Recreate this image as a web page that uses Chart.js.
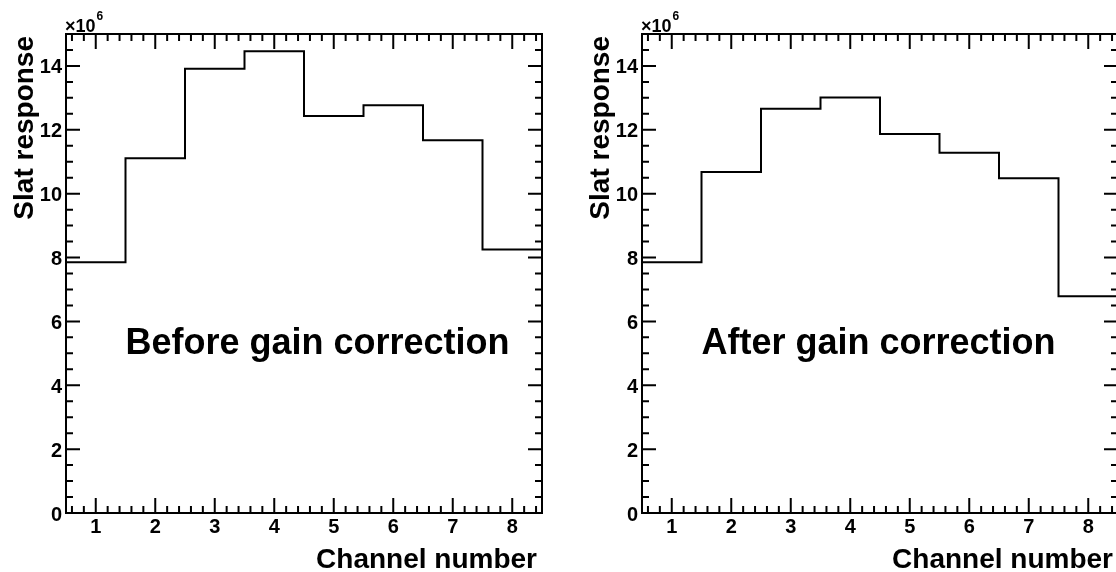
<!DOCTYPE html>
<html>
<head>
<meta charset="utf-8">
<script src="https://cdn.jsdelivr.net/npm/chart.js@4.4.0/dist/chart.umd.min.js"></script>
<style>
    html, body { margin: 0; padding: 0; background: #fff; width: 1116px; height: 572px; overflow: hidden; position: relative; }
    .panel { position: absolute; top: 0; width: 558px; height: 572px; }
    #panelBefore { left: 0; }
    #panelAfter { left: 576px; }
</style>
</head>
<body>
<div class="panel" id="panelBefore"><canvas id="graficoAntes" width="558" height="572"></canvas></div>
<div class="panel" id="panelAfter"><canvas id="graficoDespues" width="558" height="572"></canvas></div>
<script>
// Respuesta por canal, en unidades de 10^6
const channels = [1, 2, 3, 4, 5, 6, 7, 8];
const responseBefore = [7.85, 11.11, 13.91, 14.46, 12.43, 12.77, 11.67, 8.25];
const responseAfter = [7.85, 10.68, 12.66, 13.01, 11.87, 11.28, 10.48, 6.79];
const yTicks = [0, 2, 4, 6, 8, 10, 12, 14];
const yExponent = '6';

const FONT = '"Liberation Sans", Arial, Helvetica, sans-serif';

// Bordes de cada bin: el escalón empieza medio canal antes del centro
function histPoints(values) {
    const pts = values.map((v, i) => ({ x: channels[i] - 0.5, y: v }));
    pts.push({ x: channels[channels.length - 1] + 0.5, y: values[values.length - 1] });
    return pts;
}

// Marco estilo ROOT: caja, marcas mayores/menores en los 4 lados, títulos y texto
const rootFrame = {
    id: 'rootFrame',
    afterDraw(chart, args, opts) {
        const { ctx, chartArea: a, scales: { x, y } } = chart;
        ctx.save();
        ctx.strokeStyle = '#000';
        ctx.fillStyle = '#000';
        ctx.lineWidth = 2;
        ctx.strokeRect(a.left, a.top, a.right - a.left, a.bottom - a.top);

        ctx.beginPath();
        for (let k = 3; k <= 42; k++) {
            const px = x.getPixelForValue(k / 5);
            const len = k % 5 === 0 ? 15 : 7;
            ctx.moveTo(px, a.bottom); ctx.lineTo(px, a.bottom - len);
            ctx.moveTo(px, a.top); ctx.lineTo(px, a.top + len);
        }
        for (let k = 1; k <= 29; k++) {
            const py = y.getPixelForValue(k / 2);
            const len = k % 4 === 0 ? 14 : 7;
            ctx.moveTo(a.left, py); ctx.lineTo(a.left + len, py);
            ctx.moveTo(a.right, py); ctx.lineTo(a.right - len, py);
        }
        ctx.stroke();

        // Factor de escala del eje Y
        ctx.textBaseline = 'alphabetic';
        ctx.textAlign = 'left';
        ctx.font = 'bold 18px ' + FONT;
        ctx.fillText('\u00d710', a.left - 1, a.top - 2);
        const w = ctx.measureText('\u00d710').width;
        ctx.font = 'bold 12px ' + FONT;
        ctx.fillText(yExponent, a.left + w, a.top - 14);

        // Títulos de los ejes
        ctx.font = 'bold 28px ' + FONT;
        ctx.textAlign = 'right';
        ctx.fillText('Channel number', a.right - 5, a.bottom + 55);
        ctx.save();
        ctx.translate(a.left - 33, a.top + 2);
        ctx.rotate(-Math.PI / 2);
        ctx.fillText('Slat response', 0, 0);
        ctx.restore();

        // Etiqueta dentro del gráfico
        ctx.font = 'bold 36px ' + FONT;
        ctx.textAlign = 'left';
        ctx.fillText(opts.note, x.getPixelForValue(opts.noteX), y.getPixelForValue(opts.noteY) + 1);
        ctx.restore();
    }
};

function crearHistograma(canvasId, values, note) {
    const ctx = document.getElementById(canvasId).getContext('2d');
    return new Chart(ctx, {
        type: 'line',
        data: {
            datasets: [{
                data: histPoints(values),
                stepped: 'before',
                borderColor: '#000',
                borderWidth: 2,
                pointRadius: 0,
                fill: false
            }]
        },
        options: {
            responsive: false,
            devicePixelRatio: 1,
            animation: false,
            layout: { padding: { top: 34, right: 16, left: 0, bottom: 0 } },
            plugins: {
                legend: { display: false },
                tooltip: { enabled: false },
                rootFrame: { note: note, noteX: 1.5, noteY: 5 }
            },
            scales: {
                x: {
                    type: 'linear',
                    min: 0.5,
                    max: 8.5,
                    afterBuildTicks: (scale) => { scale.ticks = channels.map(v => ({ value: v })); },
                    afterFit: (scale) => { scale.height = 59; },
                    grid: { display: false, drawTicks: false },
                    border: { display: false },
                    ticks: {
                        color: '#000',
                        font: { family: FONT, size: 20, weight: 'bold' },
                        padding: 2,
                        maxRotation: 0,
                        autoSkip: false
                    }
                },
                y: {
                    type: 'linear',
                    min: 0,
                    max: 15,
                    afterBuildTicks: (scale) => { scale.ticks = yTicks.map(v => ({ value: v })); },
                    afterFit: (scale) => { scale.width = 66; },
                    grid: { display: false, drawTicks: false },
                    border: { display: false },
                    ticks: {
                        color: '#000',
                        font: { family: FONT, size: 20, weight: 'bold' },
                        padding: 4,
                        labelOffset: 2
                    }
                }
            }
        },
        plugins: [rootFrame]
    });
}

crearHistograma('graficoAntes', responseBefore, 'Before gain correction');
crearHistograma('graficoDespues', responseAfter, 'After gain correction');
</script>
</body>
</html>
